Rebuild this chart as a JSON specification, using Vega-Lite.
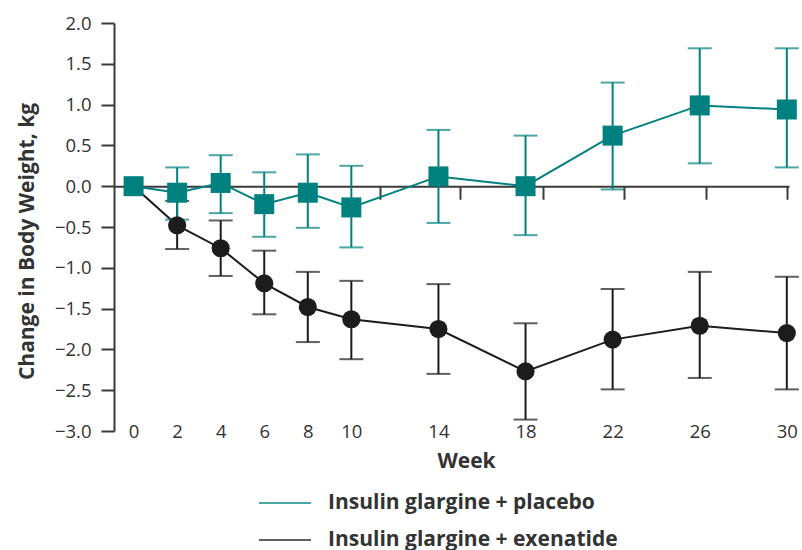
{
  "$schema": "https://vega.github.io/schema/vega-lite/v6.json",
  "autosize": {"type": "none"},
  "padding": {"left": 114, "top": 23, "right": 13, "bottom": 119},
  "width": 675,
  "height": 408,
  "background": "white",
  "config": {
    "view": {"stroke": null},
    "font": "Open Sans",
    "axis": {"grid": false}
  },
  "data": {
    "values": [
      {"week": 0, "series": "Insulin glargine + exenatide", "mean": 0, "lo": null, "hi": null},
      {"week": 2, "series": "Insulin glargine + exenatide", "mean": -0.48, "lo": -0.77, "hi": -0.18},
      {"week": 4, "series": "Insulin glargine + exenatide", "mean": -0.76, "lo": -1.10, "hi": -0.42},
      {"week": 6, "series": "Insulin glargine + exenatide", "mean": -1.19, "lo": -1.57, "hi": -0.79},
      {"week": 8, "series": "Insulin glargine + exenatide", "mean": -1.48, "lo": -1.91, "hi": -1.05},
      {"week": 10, "series": "Insulin glargine + exenatide", "mean": -1.63, "lo": -2.12, "hi": -1.16},
      {"week": 14, "series": "Insulin glargine + exenatide", "mean": -1.75, "lo": -2.30, "hi": -1.20},
      {"week": 18, "series": "Insulin glargine + exenatide", "mean": -2.27, "lo": -2.86, "hi": -1.68},
      {"week": 22, "series": "Insulin glargine + exenatide", "mean": -1.88, "lo": -2.49, "hi": -1.26},
      {"week": 26, "series": "Insulin glargine + exenatide", "mean": -1.71, "lo": -2.35, "hi": -1.05},
      {"week": 30, "series": "Insulin glargine + exenatide", "mean": -1.80, "lo": -2.49, "hi": -1.11},
      {"week": 0, "series": "Insulin glargine + placebo", "mean": 0, "lo": null, "hi": null},
      {"week": 2, "series": "Insulin glargine + placebo", "mean": -0.08, "lo": -0.41, "hi": 0.23},
      {"week": 4, "series": "Insulin glargine + placebo", "mean": 0.04, "lo": -0.33, "hi": 0.38},
      {"week": 6, "series": "Insulin glargine + placebo", "mean": -0.22, "lo": -0.62, "hi": 0.17},
      {"week": 8, "series": "Insulin glargine + placebo", "mean": -0.08, "lo": -0.51, "hi": 0.39},
      {"week": 10, "series": "Insulin glargine + placebo", "mean": -0.26, "lo": -0.75, "hi": 0.25},
      {"week": 14, "series": "Insulin glargine + placebo", "mean": 0.12, "lo": -0.45, "hi": 0.69},
      {"week": 18, "series": "Insulin glargine + placebo", "mean": 0.0, "lo": -0.60, "hi": 0.62},
      {"week": 22, "series": "Insulin glargine + placebo", "mean": 0.62, "lo": -0.04, "hi": 1.27},
      {"week": 26, "series": "Insulin glargine + placebo", "mean": 0.99, "lo": 0.28, "hi": 1.69},
      {"week": 30, "series": "Insulin glargine + placebo", "mean": 0.94, "lo": 0.23, "hi": 1.69}
    ]
  },
  "encoding": {
    "color": {
      "field": "series",
      "type": "nominal",
      "scale": {
        "domain": ["Insulin glargine + placebo", "Insulin glargine + exenatide"],
        "range": ["#00807e", "#1c1c1c"]
      },
      "legend": {
        "title": null,
        "orient": "none",
        "legendX": 144,
        "legendY": 453,
        "padding": 0,
        "symbolType": "stroke",
        "symbolSize": 2704,
        "symbolStrokeWidth": 2,
        "rowPadding": -20,
        "labelOffset": 16,
        "labelFont": "Open Sans",
        "labelFontSize": 21,
        "labelFontWeight": "bold",
        "labelColor": "#333333",
        "labelLimit": 0
      }
    }
  },
  "resolve": {"axis": {"x": "independent"}},
  "layer": [
    {
      "mark": {"type": "line", "strokeWidth": 2},
      "encoding": {
        "x": {
          "field": "week",
          "type": "quantitative",
          "scale": {"domain": [-0.9, 30.1], "nice": false, "zero": false},
          "axis": {
            "orient": "bottom",
            "values": [0, 2, 4, 6, 8, 10, 14, 18, 22, 26, 30],
            "domain": false,
            "ticks": false,
            "tickSize": 0,
            "labelPadding": 0,
            "labelBaseline": "middle",
            "labelFont": "Open Sans",
            "labelFontSize": 18.5,
            "labelColor": "#333333",
            "title": "Week",
            "titleFont": "Open Sans",
            "titleFontSize": 21,
            "titleFontWeight": "bold",
            "titleColor": "#333333",
            "titleX": 352,
            "titleY": 36,
            "titleBaseline": "alphabetic"
          }
        },
        "y": {
          "field": "mean",
          "type": "quantitative",
          "scale": {"domain": [-3, 2], "nice": false, "zero": false},
          "axis": {
            "values": [-3, -2.5, -2, -1.5, -1, -0.5, 0, 0.5, 1, 1.5, 2],
            "format": ".1f",
            "domainColor": "#3a3a3a",
            "domainWidth": 2,
            "tickColor": "#3a3a3a",
            "tickWidth": 2,
            "tickSize": 13,
            "labelPadding": 10,
            "labelFont": "Open Sans",
            "labelFontSize": 18.5,
            "labelColor": "#333333",
            "title": "Change in Body Weight, kg",
            "titleFont": "Open Sans",
            "titleFontSize": 21,
            "titleFontWeight": "bold",
            "titleColor": "#333333",
            "titleX": -81,
            "titleY": 218,
            "titleLimit": 0,
            "titleBaseline": "alphabetic"
          }
        }
      }
    },
    {
      "mark": {"type": "rule", "strokeWidth": 2},
      "encoding": {
        "x": {
          "field": "week",
          "type": "quantitative",
          "axis": {
            "orient": "bottom",
            "offset": -244.8,
            "values": [11.3, 15, 18.8, 22.5, 26.3, 30],
            "labels": false,
            "title": null,
            "domain": true,
            "domainColor": "#3a3a3a",
            "domainWidth": 2,
            "tickColor": "#3a3a3a",
            "tickWidth": 2,
            "tickSize": 13
          }
        },
        "y": {"field": "lo", "type": "quantitative"},
        "y2": {"field": "hi"}
      }
    },
    {
      "mark": {"type": "tick", "orient": "horizontal", "size": 24, "thickness": 2},
      "encoding": {
        "x": {"field": "week", "type": "quantitative", "axis": null},
        "y": {"field": "lo", "type": "quantitative"}
      }
    },
    {
      "mark": {"type": "tick", "orient": "horizontal", "size": 24, "thickness": 2},
      "encoding": {
        "x": {"field": "week", "type": "quantitative", "axis": null},
        "y": {"field": "hi", "type": "quantitative"}
      }
    },
    {
      "transform": [{"filter": "datum.series === 'Insulin glargine + exenatide'"}],
      "mark": {"type": "point", "shape": "circle", "filled": true, "opacity": 1, "size": 330},
      "encoding": {
        "x": {"field": "week", "type": "quantitative", "axis": null},
        "y": {"field": "mean", "type": "quantitative"}
      }
    },
    {
      "transform": [{"filter": "datum.series === 'Insulin glargine + placebo'"}],
      "mark": {"type": "point", "shape": "square", "filled": true, "opacity": 1, "size": 400},
      "encoding": {
        "x": {"field": "week", "type": "quantitative", "axis": null},
        "y": {"field": "mean", "type": "quantitative"}
      }
    }
  ]
}
